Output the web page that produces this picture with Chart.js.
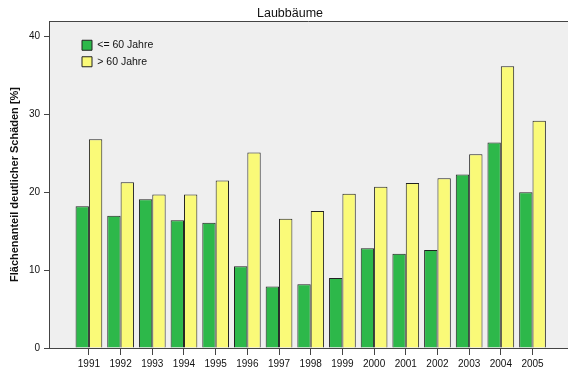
<html lang="de">
<head>
    <meta charset="UTF-8">
    <title>Laubbäume</title>
    <style>
        body { margin: 0; background: #fff; }
    </style>
</head>
<body>
    <canvas id="myChart" width="568" height="376"></canvas>

    <script src="https://cdn.jsdelivr.net/npm/chart.js@4"></script>
    <script>
        // data
        const years = [1991, 1992, 1993, 1994, 1995, 1996, 1997, 1998, 1999, 2000, 2001, 2002, 2003, 2004, 2005];
        const young = [18.2, 17.0, 19.1, 16.4, 16.1, 10.5, 7.9, 8.2, 9.0, 12.8, 12.1, 12.6, 22.3, 26.4, 20.0];
        const old = [26.8, 21.3, 19.7, 19.7, 21.5, 25.1, 16.6, 17.6, 19.8, 20.7, 21.2, 21.8, 24.9, 36.2, 29.2];
        const yTicks = [0, 10, 20, 30, 40];
        const seriesNames = ['<= 60 Jahre', '> 60 Jahre'];

        const font = "'Liberation Sans', Arial, sans-serif";
        const lineColor = '#444';

        // grey plot background and the top border line
        const plotBg = {
            id: 'plotBg',
            beforeDraw(chart) {
                const {ctx, chartArea: a} = chart;
                ctx.save();
                ctx.fillStyle = '#efefef';
                ctx.fillRect(a.left, a.top, a.right - a.left, a.bottom - a.top);
                ctx.strokeStyle = lineColor;
                ctx.lineWidth = 1;
                ctx.beginPath();
                ctx.moveTo(a.left, a.top + 0.5);
                ctx.lineTo(a.right, a.top + 0.5);
                ctx.stroke();
                ctx.restore();
            }
        };

        // move the legend inside the plot, a bit away from the corner
        const legendShift = {
            id: 'legendShift',
            afterLayout(chart) {
                chart.legend.left += 27;
                chart.legend.top += 34;
            }
        };

        const ctx = document.getElementById('myChart').getContext('2d');
        new Chart(ctx, {
            type: 'bar',
            data: {
                datasets: [
                    {
                        label: seriesNames[0],
                        data: years.map((x, i) => ({x: x, y: young[i]})),
                        backgroundColor: '#2db84a',
                        borderColor: '#222',
                        borderWidth: 1
                    },
                    {
                        label: seriesNames[1],
                        data: years.map((x, i) => ({x: x, y: old[i]})),
                        backgroundColor: '#fafa78',
                        borderColor: '#222',
                        borderWidth: 1
                    }
                ]
            },
            options: {
                responsive: false,
                animation: false,
                layout: { padding: { left: 12, top: 0, right: 0, bottom: 0 } },
                categoryPercentage: 0.843,
                barPercentage: 1,
                plugins: {
                    title: {
                        display: true,
                        text: 'Laubbäume',
                        color: '#111',
                        font: { family: font, size: 12.5, weight: 'normal' },
                        padding: { top: 6, bottom: 0 }
                    },
                    legend: {
                        position: 'chartArea',
                        align: 'start',
                        labels: {
                            boxWidth: 10,
                            boxHeight: 10,
                            padding: 6,
                            color: '#111',
                            font: { family: font, size: 10.5 }
                        }
                    },
                    tooltip: { enabled: false }
                },
                scales: {
                    x: {
                        type: 'linear',
                        min: 1989.74,
                        max: 2006.12,
                        offset: false,
                        afterBuildTicks: s => { s.ticks = years.map(v => ({value: v})); },
                        afterFit: s => { s.height = 28; },
                        ticks: {
                            callback: v => String(v),
                            autoSkip: false,
                            maxRotation: 0,
                            padding: 3,
                            color: '#111',
                            font: { family: font, size: 10 }
                        },
                        grid: { offset: false, drawOnChartArea: false, drawTicks: true, tickLength: 7, color: lineColor },
                        border: { display: true, color: lineColor, width: 1 }
                    },
                    y: {
                        min: 0,
                        max: 42,
                        afterBuildTicks: s => { s.ticks = yTicks.map(v => ({value: v})); },
                        afterFit: s => { s.width = 37; },
                        ticks: {
                            padding: 4,
                            color: '#111',
                            font: { family: font, size: 10 }
                        },
                        grid: { drawOnChartArea: false, drawTicks: true, tickLength: 5, color: lineColor },
                        border: { display: true, color: lineColor, width: 1 },
                        title: {
                            display: true,
                            text: 'Flächenanteil deutlicher Schäden [%]',
                            color: '#111',
                            font: { family: font, size: 11, weight: 'bold' },
                            padding: { top: -3.6, bottom: 0 }
                        }
                    }
                }
            },
            plugins: [plotBg, legendShift]
        });
    </script>
</body>
</html>
